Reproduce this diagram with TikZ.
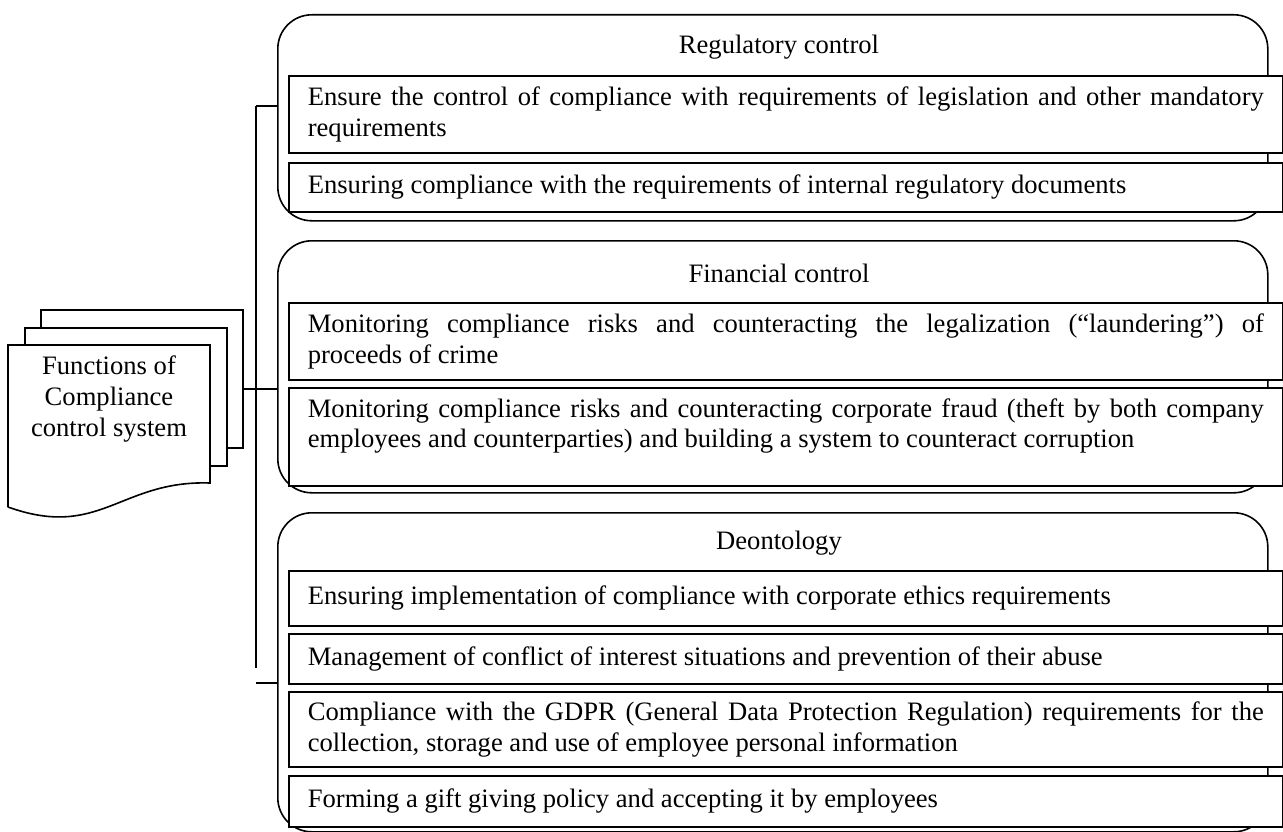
\documentclass[tikz,border=0pt]{standalone}
\usepackage{fontspec}
\setmainfont{Liberation Serif}

\begin{document}
\begin{tikzpicture}[x=1pt,y=-1pt,line width=1.6pt,
    font=\fontsize{26.6}{30.6}\selectfont,
    group/.style={draw,rounded corners=34pt,anchor=north west,inner sep=0pt,minimum width=990pt},
    item/.style={draw,fill=white,anchor=north west,text width=956pt,inner xsep=19pt,inner ysep=4pt,align=justify},
    page/.style={draw,fill=white}]
    \useasboundingbox (0,0) rectangle (1283,832);

    % three groups of functions
    \node[group,minimum height=206pt] (reg) at (277,14) {};
    \node[group,minimum height=252pt] (fin) at (277,240) {};
    \node[group,minimum height=319pt] (deo) at (277,512) {};

    \node (regt) at (779,47) {Regulatory control};
    \node (fint) at (779,273) {Financial control};
    \node (deot) at (779,543) {Deontology};

    \node[item,minimum height=77pt] (r1) at (288,75) {Ensure the control of compliance with requirements of legislation and other mandatory requirements};
    \node[item,minimum height=49pt] (r2) at (288,162) {Ensuring compliance with the requirements of internal regulatory documents};

    \node[item,minimum height=77pt] (f1) at (288,302) {Monitoring compliance risks and counteracting the legalization (“laundering”) of\linebreak proceeds of crime};
    \node[item,text height=25.5pt,text depth=64.5pt] (f2) at (288,387) {Monitoring compliance risks and counteracting corporate fraud (theft by both company employees and counterparties) and building a system to counteract corruption};

    \node[item,minimum height=55pt] (d1) at (288,570) {Ensuring implementation of compliance with corporate ethics requirements};
    \node[item,minimum height=50pt] (d2) at (288,633) {Management of conflict of interest situations and prevention of their abuse};
    \node[item,minimum height=75pt] (d3) at (288,691) {Compliance with the GDPR (General Data Protection Regulation) requirements for the collection, storage and use of employee personal information};
    \node[item,minimum height=51pt] (d4) at (288,775) {Forming a gift giving policy and accepting it by employees};

    % stacked documents
    \draw[page] (41,448) -- (41,310) -- (243,310) -- (243,448) -- cycle;
    \draw[page] (25,466) -- (25,328) -- (227,328) -- (227,466) -- cycle;
    \draw[page] (8,507) -- (8,345) -- (210,345) -- (210,483)
        .. controls (120,480) and (100,540) .. (8,507);
    \node[align=center] (doc) at (109,399) {Functions of\\Compliance\\control system};
    \coordinate (pg) at (243,389);

    % bus
    \coordinate (bt) at (256,106);
    \coordinate (bb) at (256,668);
    \coordinate (bl) at (256,683);
    \draw (bt) -- (bb);
    \draw (bt) -- (bt -| reg.west);
    \draw (pg) -- (pg -| fin.west);
    \draw (bl) -- (bl -| deo.west);
\end{tikzpicture}
\end{document}
